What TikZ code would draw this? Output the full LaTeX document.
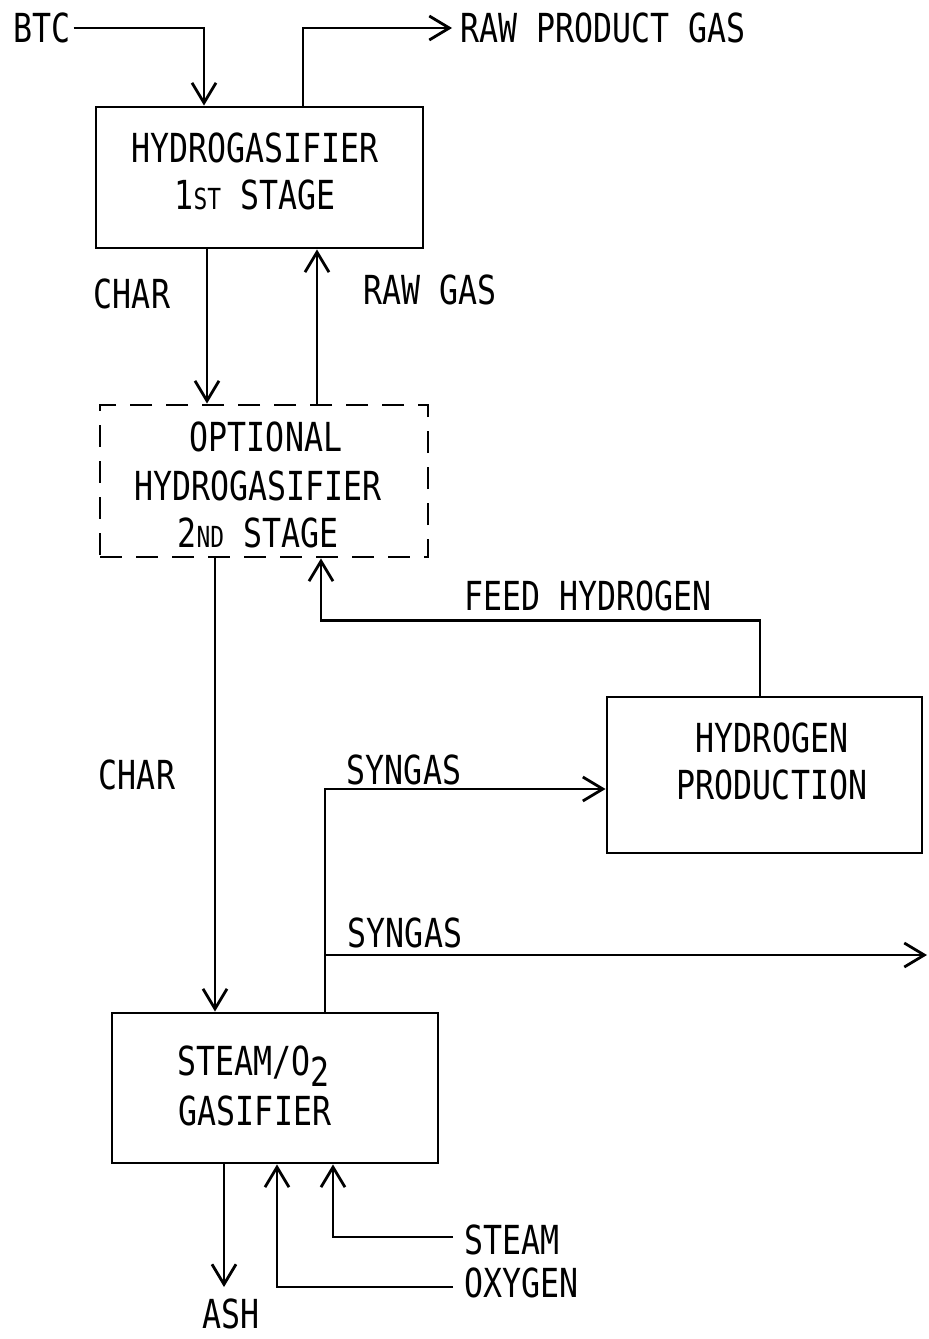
\documentclass[tikz,border=0pt]{standalone}
\usepackage{fontspec}
\setmainfont[FakeStretch=0.79]{DejaVu Sans Mono}
\usetikzlibrary{arrows.meta}
\begin{document}
\begin{tikzpicture}[x=1pt,y=-1pt,
  line/.style={line width=2.8pt, line join=miter},
  arr/.style={line, -{Straight Barb[length=20pt,width=24pt,line width=2.8pt]}},
  box/.style={draw, line width=2.9pt, inner sep=0pt},
  dbox/.style={box, dash pattern=on 22pt off 14pt},
  lbl/.style={inner sep=0pt, font=\fontsize{40}{40}\selectfont}
]
\useasboundingbox (0,0) rectangle (929,1339);
\fill[white] (0,0) rectangle (929,1339);

% boxes
\node[box, minimum width=327pt, minimum height=141pt] (h1) at (259.5,177.5) {};
\node[dbox, minimum width=328pt, minimum height=152pt] (h2) at (264,481) {};
\node[box, minimum width=315pt, minimum height=156pt] (hp) at (764.5,775) {};
\node[box, minimum width=326pt, minimum height=150pt] (gas) at (275,1088) {};

% box texts
\node[lbl] (h1a) at (255,148) {HYDROGASIFIER};
\node[lbl] (h1b) at (255,195) {1{\fontsize{29}{29}\selectfont ST} STAGE};
\node[lbl] (h2a) at (266,437) {OPTIONAL};
\node[lbl] (h2b) at (258,486) {HYDROGASIFIER};
\node[lbl] (h2c) at (258,533) {2{\fontsize{29}{29}\selectfont ND} STAGE};
\node[lbl] (hpa) at (772,738) {HYDROGEN};
\node[lbl] (hpb) at (772,785) {PRODUCTION};
\node[lbl, anchor=base west] (gaa) at (177,1075) {STEAM/O\raisebox{-11pt}{2}};
\node[lbl] (gab) at (255,1111) {GASIFIER};

% outside labels
\node[lbl] (btc) at (42,28) {BTC};
\node[lbl, anchor=west] (rpg) at (460,28) {RAW PRODUCT GAS};
\node[lbl] (char1) at (132,294) {CHAR};
\node[lbl] (rawgas) at (430,290) {RAW GAS};
\node[lbl] (feed) at (588,596) {FEED HYDROGEN};
\node[lbl] (char2) at (137,775) {CHAR};
\node[lbl] (syn1) at (404,770) {SYNGAS};
\node[lbl] (syn2) at (405,933) {SYNGAS};
\node[lbl, anchor=west] (steam) at (464,1240) {STEAM};
\node[lbl, anchor=west] (oxy) at (464,1283) {OXYGEN};
\node[lbl] (ash) at (231,1314) {ASH};

\coordinate (sgout) at (927,955);
\coordinate (ashend) at (224,1287);
\coordinate (oxin) at (453,1287);
\coordinate (stin) at (453,1237);

% connectors
\draw[arr] ([xshift=3pt]btc.east) -| ([xshift=-55.5pt]h1.north);
\draw[arr] ([xshift=43.5pt]h1.north) |- ([xshift=-8pt]rpg.west);
\draw[arr] ([xshift=-52.5pt]h1.south) -- ([xshift=-57pt]h2.north);
\draw[arr] ([xshift=53pt]h2.north) -- ([xshift=57.5pt]h1.south);
\draw[arr] ([xshift=-49pt]h2.south) -- ([xshift=-60pt]gas.north);
\draw[arr] ([xshift=-4.5pt]hp.north) -- ++(0,-75) -| ([xshift=57pt]h2.south);
\draw[arr] ([xshift=50pt]gas.north) |- ([yshift=-14pt]hp.west);
\draw[arr] ([xshift=50pt]gas.north |- sgout) -- (sgout);
\draw[arr] ([xshift=-51pt]gas.south) -- (ashend);
\draw[arr] (oxin) -| ([xshift=2pt]gas.south);
\draw[arr] (stin) -| ([xshift=58pt]gas.south);
\end{tikzpicture}
\end{document}
